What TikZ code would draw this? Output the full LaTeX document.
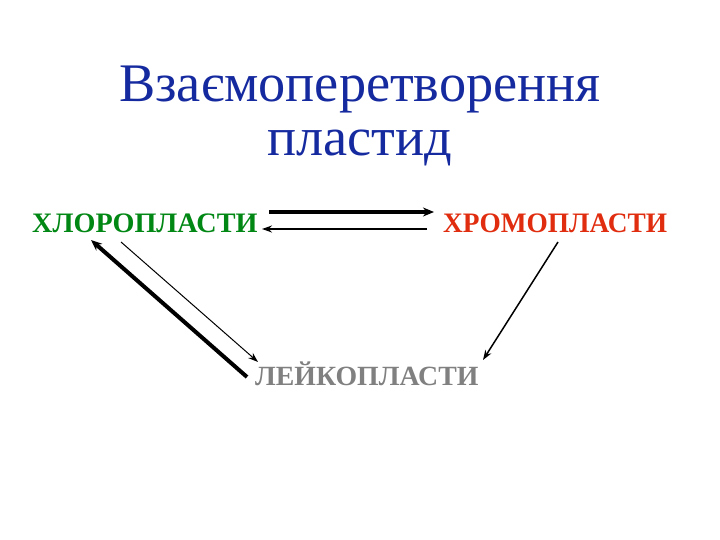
\documentclass[tikz,border=0pt]{standalone}
\usepackage{fontspec}
\setmainfont{Liberation Serif}
\usetikzlibrary{arrows.meta}
\definecolor{titleblue}{RGB}{22,42,160}
\definecolor{chlgreen}{RGB}{0,135,20}
\definecolor{chrred}{RGB}{225,45,15}
\definecolor{leugray}{RGB}{128,128,128}
\begin{document}
\begin{tikzpicture}[x=1pt,y=-1pt,
  lbl/.style={inner sep=0pt,anchor=base west,font=\fontsize{28.2}{30}\selectfont\bfseries},
  thin/.style={line width=1pt,-{Stealth[length=10pt,width=7pt]}},
  med/.style={line width=1.5pt,-{Stealth[length=10pt,width=7pt]}},
  thick/.style={line width=4pt,-{Stealth[length=11pt,width=9pt]}}]
\useasboundingbox[fill=white] (0,0) rectangle (720,540);
\node[inner sep=0pt,anchor=base,text=titleblue,font=\fontsize{54.3}{54}\selectfont] (t1) at (360,102) {Взаємоперетворення};
\node[inner sep=0pt,anchor=base,text=titleblue,font=\fontsize{54.3}{54}\selectfont] (t2) at (360,156) {пластид};
\node[lbl,text=chlgreen] (chl) at (32,233) {ХЛОРОПЛАСТИ};
\node[lbl,text=chrred,xscale=0.97] (chr) at (443,233) {ХРОМОПЛАСТИ};
\node[lbl,text=leugray,font=\fontsize{27.8}{30}\selectfont\bfseries] (leu) at (255,385) {ЛЕЙКОПЛАСТИ};
% endpoints
\coordinate (a1) at (269,212);
\coordinate (a2) at (434,212);
\coordinate (b1) at (427,229);
\coordinate (b2) at (262,229);
\coordinate (c1) at (121,242);
\coordinate (c2) at (258,362);
\coordinate (d1) at (247,377);
\coordinate (d2) at (91,240);
\coordinate (e1) at (558,242);
\coordinate (e2) at (483,360);
\draw[thick,line width=3.5pt] (a1) -- (a2);
\draw[med] (b1) -- (b2);
\draw[thin] (c1) -- (c2);
\draw[thick] (d1) -- (d2);
\draw[med] (e1) -- (e2);
\end{tikzpicture}
\end{document}
